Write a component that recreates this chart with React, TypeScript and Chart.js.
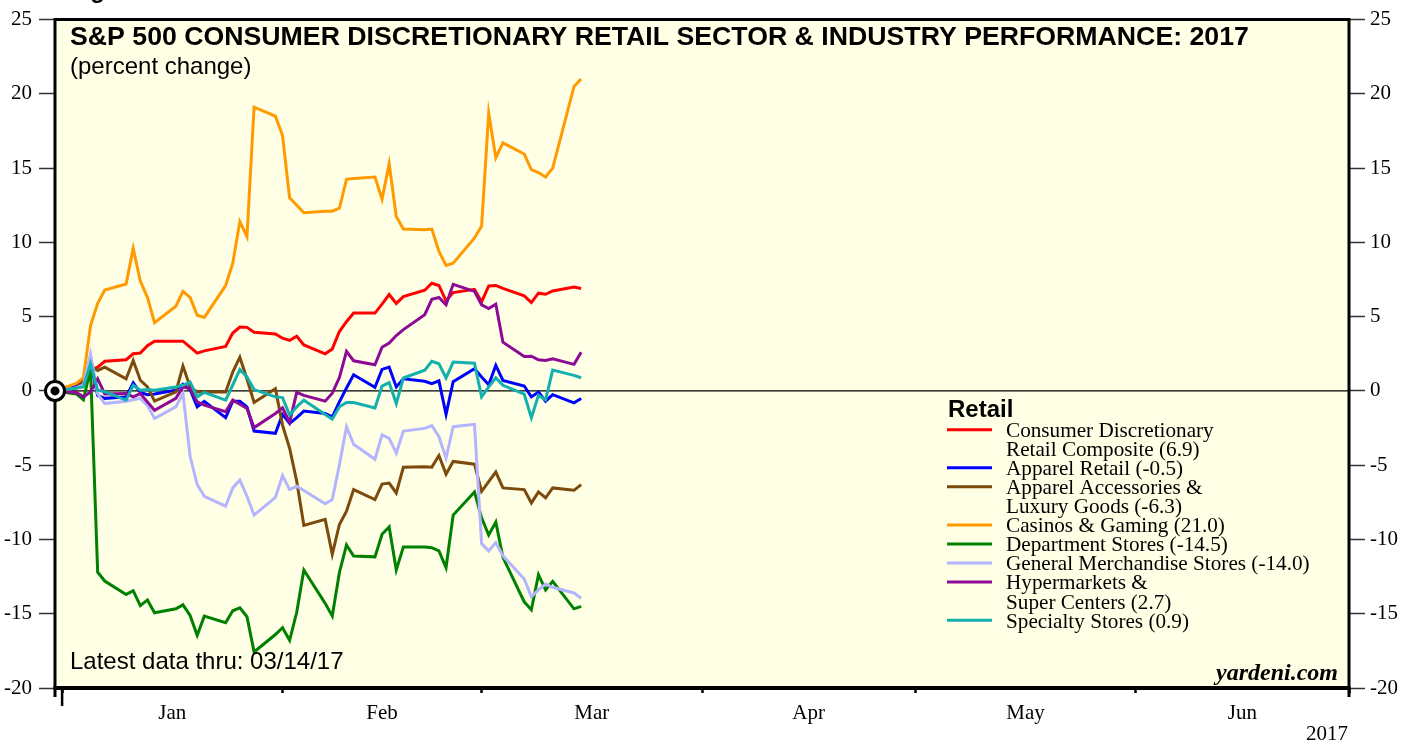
import React, { useEffect, useRef } from "react";
import { Chart, registerables } from "chart.js";

Chart.register(...registerables);

// ---------- DATA ----------
const dates = [
  "2016-12-30",
  "2017-01-02", "2017-01-03", "2017-01-04", "2017-01-05", "2017-01-06",
  "2017-01-09", "2017-01-10", "2017-01-11", "2017-01-12", "2017-01-13",
  "2017-01-16", "2017-01-17", "2017-01-18", "2017-01-19", "2017-01-20",
  "2017-01-23", "2017-01-24", "2017-01-25", "2017-01-26", "2017-01-27",
  "2017-01-30", "2017-01-31", "2017-02-01", "2017-02-02", "2017-02-03",
  "2017-02-06", "2017-02-07", "2017-02-08", "2017-02-09", "2017-02-10",
  "2017-02-13", "2017-02-14", "2017-02-15", "2017-02-16", "2017-02-17",
  "2017-02-20", "2017-02-21", "2017-02-22", "2017-02-23", "2017-02-24",
  "2017-02-27", "2017-02-28", "2017-03-01", "2017-03-02", "2017-03-03",
  "2017-03-06", "2017-03-07", "2017-03-08", "2017-03-09", "2017-03-10",
  "2017-03-13", "2017-03-14",
];

const retailComposite = [
  0,
  0.3, 0.8, 1.4, 1.6, 2.0,
  2.1, 2.5, 2.55, 3.05, 3.35,
  3.35, 3.35, 2.95, 2.55, 2.7,
  3.0, 3.9, 4.3, 4.28, 3.95,
  3.83, 3.55, 3.4, 3.68, 3.1,
  2.5, 2.83, 4.0, 4.66, 5.24,
  5.24, 5.84, 6.49, 5.89, 6.35,
  6.78, 7.25, 7.1, 6.07, 6.62,
  6.84, 6.0, 7.07, 7.1, 6.9,
  6.4, 5.95, 6.58, 6.51, 6.73,
  7.0, 6.9,
];

const apparelRetail = [
  0,
  0.3, 0.6, 1.9, -0.3, -0.5,
  -0.4, 0.55, -0.1, -0.25, -0.2,
  0.05, 0.45, 0.1, -1.07, -0.7,
  -1.8, -0.69, -0.7, -1.07, -2.7,
  -2.85, -1.58, -2.19, -1.8, -1.36,
  -1.52, -1.74, -0.74, 0.2, 1.09,
  0.25, 1.45, 1.6, 0.27, 0.82,
  0.65, 0.49, 0.68, -1.58, 0.62,
  1.49, 0.94, 0.42, 1.72, 0.71,
  0.33, -0.4, -0.07, -0.69, -0.25,
  -0.8, -0.51,
];

const apparelLuxury = [
  0,
  0.2, 0.6, 1.7, 1.38, 1.6,
  0.82, 2.05, 0.72, 0.27, -0.69,
  -0.07, 1.67, 0.27, -0.07, -0.07,
  -0.07, 1.27, 2.27, 0.8, -0.78,
  0.15, -2.3, -3.86, -6.09, -9.05,
  -8.65, -11.0, -8.99, -8.09, -6.64,
  -7.31, -6.27, -6.2, -6.87, -5.13,
  -5.1, -5.13, -4.35, -5.6, -4.75,
  -4.93, -6.76, -6.1, -5.46, -6.53,
  -6.64, -7.54, -6.8, -7.2, -6.53,
  -6.69, -6.31,
];

const casinosGaming = [
  0,
  0.5, 0.9, 4.4, 5.9, 6.8,
  7.2, 9.6, 7.4, 6.3, 4.6,
  5.7, 6.7, 6.3, 5.1, 4.95,
  7.1, 8.6, 11.4, 10.4, 19.1,
  18.5, 17.2, 13.0, 12.5, 12.0,
  12.1, 12.1, 12.3, 14.25, 14.3,
  14.4, 12.9, 15.3, 11.75, 10.9,
  10.85, 10.9, 9.4, 8.45, 8.6,
  10.3, 11.1, 18.7, 15.7, 16.7,
  15.95, 14.9, 14.7, 14.4, 15.0,
  20.5, 21.0,
];

const departmentStores = [
  0,
  -0.2, -0.6, 1.5, -12.2, -12.8,
  -13.7, -13.45, -14.45, -14.07, -14.94,
  -14.67, -14.4, -15.12, -16.45, -15.16,
  -15.6, -14.8, -14.6, -15.2, -17.57,
  -16.4, -15.94, -16.79, -14.9, -12.06,
  -14.3, -15.16, -12.22, -10.37, -11.12,
  -11.17, -9.65, -9.16, -12.06, -10.5,
  -10.5, -10.55, -10.77, -11.89, -8.36,
  -6.8, -8.54, -9.7, -8.83, -11.2,
  -14.2, -14.74, -12.37, -13.4, -12.82,
  -14.67, -14.5,
];

const generalMerchandise = [
  0,
  0.2, 0.4, 2.5, -0.2, -0.85,
  -0.69, -0.6, -0.5, -1.0, -1.85,
  -1.07, -0.18, -4.4, -6.3, -7.09,
  -7.76, -6.53, -6.0, -7.09, -8.36,
  -7.16, -5.7, -6.64, -6.42, -6.7,
  -7.6, -7.31, -4.97, -2.41, -3.59,
  -4.6, -2.96, -3.19, -4.19, -2.7,
  -2.52, -2.34, -3.08, -4.53, -2.41,
  -2.25, -10.28, -10.77, -10.21, -11.1,
  -12.66, -13.85, -13.4, -13.0, -13.22,
  -13.6, -13.96,
];

const hypermarkets = [
  0,
  -0.1, -0.4, -0.07, 0.82, -0.2,
  -0.18, -0.4, -0.18, -0.74, -1.3,
  -0.5, 0.27, 0.16, -0.74, -0.96,
  -1.4, -0.62, -0.9, -1.18, -2.47,
  -1.52, -1.14, -2.12, -0.1, -0.3,
  -0.69, -0.15, 0.9, 2.66, 2.03,
  1.76, 2.94, 3.23, 3.73, 4.13,
  5.13, 6.17, 6.29, 5.8, 7.18,
  6.7, 5.8, 5.55, 5.84, 3.28,
  2.32, 2.34, 2.1, 2.05, 2.16,
  1.79, 2.6,
];

const specialtyStores = [
  0,
  0.2, 0.27, 1.83, 0.05, -0.05,
  -0.62, 0.38, 0.05, 0.1, 0.05,
  0.27, 0.38, 0.6, -0.4, -0.1,
  -0.62, 0.4, 1.45, 0.94, 0.09,
  -0.4, -0.45, -1.63, -1.07, -0.62,
  -1.58, -1.9, -1.07, -0.78, -0.78,
  -1.14, 0.33, 0.56, -0.85, 0.87,
  1.4, 2.0, 1.83, 0.87, 1.94,
  1.87, -0.4, 0.27, 0.89, 0.38,
  -0.22, -1.8, -0.3, -0.6, 1.4,
  1.05, 0.89,
];

const seriesNames = [
  ["Consumer Discretionary", "Retail Composite (6.9)"],
  ["Apparel Retail (-0.5)"],
  ["Apparel Accessories &", "Luxury Goods (-6.3)"],
  ["Casinos & Gaming (21.0)"],
  ["Department Stores (-14.5)"],
  ["General Merchandise Stores (-14.0)"],
  ["Hypermarkets &", "Super Centers (2.7)"],
  ["Specialty Stores (0.9)"],
];
const seriesValues = [
  retailComposite, apparelRetail, apparelLuxury, casinosGaming,
  departmentStores, generalMerchandise, hypermarkets, specialtyStores,
];
const seriesColors = [
  "#FF0000", "#0000FF", "#7B4A0C", "#FF9A00",
  "#008000", "#B4B4FF", "#8C0A96", "#14AFAF",
];

const monthStarts = ["2017-01-01", "2017-02-01", "2017-03-01", "2017-04-01", "2017-05-01", "2017-06-01", "2017-07-01"];
const monthLabels = ["Jan", "Feb", "Mar", "Apr", "May", "Jun"];
const yTickValues = [-20, -15, -10, -5, 0, 5, 10, 15, 20, 25];
const axisStart = "2016-12-31";
const axisEnd = "2017-07-01";

const titleText = "S&P 500 CONSUMER DISCRETIONARY RETAIL SECTOR & INDUSTRY PERFORMANCE: 2017";
const subtitleText = "(percent change)";
const latestText = "Latest data thru: 03/14/17";
const sourceText = "yardeni.com";
const yearText = "2017";
const legendTitle = "Retail";
const figureText = "Figure 5.";

// ---------- HELPERS ----------
const dayIndex = (s: string) => {
  const [y, m, d] = s.split("-").map(Number);
  return (Date.UTC(y, m - 1, d) - Date.UTC(2017, 0, 1)) / 86400000;
};
// values are plotted at the close (end) of each day
const closeX = (s: string) => dayIndex(s) + 1;

const SERIF = "'Liberation Serif', 'Times New Roman', serif";
const SANS = "'Liberation Sans', Arial, Helvetica, sans-serif";
const PLOT_BG = "#FFFFE5";

export default function App() {
  const ref = useRef<HTMLCanvasElement | null>(null);

  useEffect(() => {
    const canvas = ref.current;
    if (!canvas) return;

    const datasets = seriesValues.map((vals, i) => ({
      label: seriesNames[i].join(" "),
      data: dates.map((d, j) => ({ x: closeX(d), y: vals[j] })),
      borderColor: seriesColors[i],
      backgroundColor: seriesColors[i],
      borderWidth: 3,
      pointRadius: 0,
      tension: 0,
      fill: false,
      order: seriesValues.length - i,
      borderJoinStyle: "miter" as const,
    }));

    const decorPlugin = {
      id: "decor",
      beforeDraw(chart: any) {
        const { ctx, chartArea } = chart;
        ctx.save();
        ctx.fillStyle = "#ffffff";
        ctx.fillRect(0, 0, chart.width, chart.height);
        ctx.fillStyle = PLOT_BG;
        ctx.fillRect(chartArea.left, chartArea.top, chartArea.right - chartArea.left, chartArea.bottom - chartArea.top);
        ctx.restore();
      },
      beforeDatasetsDraw(chart: any) {
        const { ctx, chartArea, scales } = chart;
        const y0 = scales.y.getPixelForValue(0);
        ctx.save();
        ctx.strokeStyle = "#000";
        ctx.lineWidth = 1.2;
        ctx.beginPath();
        ctx.moveTo(chartArea.left, y0);
        ctx.lineTo(chartArea.right, y0);
        ctx.stroke();
        ctx.restore();
      },
      afterDatasetsDraw(chart: any) {
        const { ctx, chartArea, scales } = chart;
        const { left, right, top, bottom } = chartArea;
        ctx.save();
        ctx.strokeStyle = "#000";
        // frame
        ctx.lineWidth = 3;
        ctx.beginPath();
        ctx.moveTo(left, top);
        ctx.lineTo(right, top);
        ctx.stroke();
        ctx.beginPath();
        ctx.moveTo(left, top - 1.5);
        ctx.lineTo(left, bottom + 9);
        ctx.stroke();
        ctx.beginPath();
        ctx.moveTo(right, top - 1.5);
        ctx.lineTo(right, bottom + 9);
        ctx.stroke();
        ctx.lineWidth = 4;
        ctx.beginPath();
        ctx.moveTo(left - 1.5, bottom);
        ctx.lineTo(right + 1.5, bottom);
        ctx.stroke();
        // year-start tick
        const xj = scales.x.getPixelForValue(dayIndex(monthStarts[0]));
        ctx.lineWidth = 2.5;
        ctx.beginPath();
        ctx.moveTo(xj, bottom);
        ctx.lineTo(xj, bottom + 18);
        ctx.stroke();
        // origin marker
        const ox = scales.x.getPixelForValue(closeX(dates[0]));
        const oy = scales.y.getPixelForValue(retailComposite[0]);
        ctx.beginPath();
        ctx.arc(ox, oy, 9.5, 0, Math.PI * 2);
        ctx.fillStyle = "#fff";
        ctx.fill();
        ctx.lineWidth = 3;
        ctx.stroke();
        ctx.beginPath();
        ctx.arc(ox, oy, 4.5, 0, Math.PI * 2);
        ctx.fillStyle = "#000";
        ctx.fill();
        ctx.restore();
      },
      afterDraw(chart: any) {
        const { ctx } = chart;
        ctx.save();
        ctx.fillStyle = "#000";
        ctx.textBaseline = "alphabetic";
        ctx.textAlign = "left";
        ctx.font = `bold 24px ${SANS}`;
        ctx.fillText(figureText, 69, -2);
        ctx.font = `bold 26.7px ${SANS}`;
        ctx.fillText(titleText, 70, 45);
        ctx.font = `24px ${SANS}`;
        ctx.fillText(subtitleText, 70, 74);
        ctx.fillText(latestText, 70, 669);
        ctx.textAlign = "right";
        ctx.font = `italic bold 24px ${SERIF}`;
        ctx.fillText(sourceText, 1338, 680);
        ctx.font = `21px ${SERIF}`;
        ctx.fillText(yearText, 1348, 740);

        // legend
        ctx.textAlign = "left";
        ctx.textBaseline = "middle";
        ctx.font = `bold 24px ${SANS}`;
        ctx.fillText(legendTitle, 948, 410);
        ctx.font = `21.2px ${SERIF}`;
        const lineH = 19.05;
        let y = 431.5;
        seriesNames.forEach((lines, i) => {
          ctx.strokeStyle = seriesColors[i];
          ctx.lineWidth = 3;
          ctx.beginPath();
          ctx.moveTo(947, y - 1.8);
          ctx.lineTo(992, y - 1.8);
          ctx.stroke();
          lines.forEach((t) => {
            ctx.fillText(t, 1006, y);
            y += lineH;
          });
        });
        ctx.restore();
      },
    };

    const yAxisBase = (position: "left" | "right", width: number, padding: number) => ({
      type: "linear" as const,
      position,
      min: yTickValues[0],
      max: yTickValues[yTickValues.length - 1],
      afterBuildTicks: (scale: any) => {
        scale.ticks = yTickValues.map((v) => ({ value: v }));
      },
      afterFit: (scale: any) => {
        scale.width = width;
      },
      ticks: {
        font: { family: SERIF, size: 21 },
        color: "#000",
        padding,
        callback: (v: any) => String(v),
      },
      grid: {
        drawOnChartArea: false,
        drawTicks: true,
        tickLength: 16,
        tickColor: "#333",
        tickWidth: 1.5,
      },
      border: { display: false },
    });

    const chart = new Chart(canvas, {
      type: "line",
      data: { datasets },
      plugins: [decorPlugin],
      options: {
        animation: false,
        responsive: false,
        devicePixelRatio: 1,
        layout: { padding: { top: 16, left: 0, right: 0, bottom: 0 } },
        plugins: {
          legend: { display: false },
          tooltip: { enabled: false },
          title: { display: false },
        },
        scales: {
          x: {
            type: "linear",
            position: "bottom",
            weight: 0,
            min: dayIndex(axisStart),
            max: dayIndex(axisEnd),
            afterBuildTicks: (scale: any) => {
              scale.ticks = monthStarts.map((s) => ({ value: dayIndex(s) }));
            },
            afterFit: (scale: any) => {
              scale.height = 6;
            },
            ticks: { display: false, autoSkip: false },
            grid: {
              drawOnChartArea: false,
              drawTicks: true,
              tickLength: 5,
              tickColor: "#000",
              tickWidth: 2.5,
            },
            border: { display: false },
          },
          x2: {
            type: "linear",
            position: "bottom",
            weight: 1,
            min: dayIndex(axisStart),
            max: dayIndex(axisEnd),
            afterBuildTicks: (scale: any) => {
              scale.ticks = monthLabels.map((_, i) => ({
                value: (dayIndex(monthStarts[i]) + dayIndex(monthStarts[i + 1])) / 2,
              }));
            },
            afterFit: (scale: any) => {
              scale.height = 50;
            },
            ticks: {
              autoSkip: false,
              maxRotation: 0,
              font: { family: SERIF, size: 21 },
              color: "#000",
              padding: 7,
              callback: (_v: any, i: number) => monthLabels[i],
            },
            grid: { display: false, drawTicks: false },
            border: { display: false },
          },
          y: yAxisBase("left", 55, 7) as any,
          y2: yAxisBase("right", 67, 5) as any,
        },
      } as any,
    });

    return () => chart.destroy();
  }, []);

  return (
    <div style={{ position: "fixed", left: 0, top: 0, width: 1416, height: 744, background: "#fff" }}>
      <canvas ref={ref} width={1416} height={744} style={{ display: "block", width: 1416, height: 744 }} />
    </div>
  );
}
